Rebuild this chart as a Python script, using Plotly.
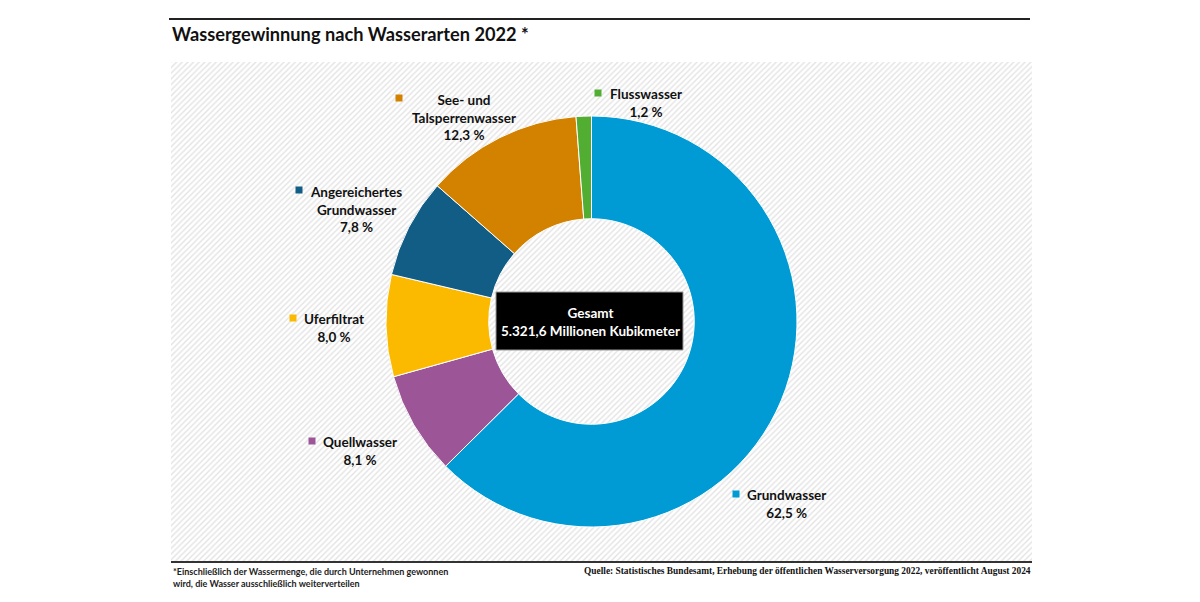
import plotly.graph_objects as go

W, H = 1200, 602

categories = ["Grundwasser", "Quellwasser", "Uferfiltrat", "Angereichertes<br>Grundwasser",
              "See- und<br>Talsperrenwasser", "Flusswasser"]
shares = [62.5, 8.1, 8.0, 7.8, 12.3, 1.2]
colors = ["#009BD5", "#9C5596", "#FBBA00", "#125D86", "#D38200", "#52AE32"]

# label block centre and colour square, in pixels of the 1200x602 picture
label_pos = [(786.5, 503.5), (360, 451), (334, 328), (356, 209), (463.5, 117), (646, 102.5)]
square_pos = [(736, 494), (312, 441), (293, 318), (299, 190), (399, 98), (598, 93)]

SANS = "Lato"
SERIF = "Liberation Serif"


def px(x):
    return x / W


def py(y):
    return 1 - y / H


fig = go.Figure()

# hatched panel behind the donut
fig.add_trace(go.Bar(
    x=[0], y=[1], width=[1],
    marker=dict(color="white", line_width=0,
                pattern=dict(shape="/", size=4, solidity=0.35, fgcolor="#c8c8c8", bgcolor="white")),
    hoverinfo="skip", showlegend=False,
))

fig.add_trace(go.Pie(
    values=shares,
    labels=[c.replace("<br>", " ") for c in categories],
    hole=0.5,
    sort=False,
    direction="clockwise",
    rotation=0,
    marker=dict(colors=colors, line=dict(color="white", width=1)),
    textinfo="none",
    showlegend=False,
    domain=dict(x=[px(386), px(797)], y=[py(527), py(116)]),
))

annotations = []
shapes = []
for cat, share, (x, y), (sx, sy), col in zip(categories, shares, label_pos, square_pos, colors):
    value = f"{share:.1f}".replace(".", ",")
    annotations.append(dict(
        x=px(x), y=py(y), xref="paper", yref="paper", showarrow=False,
        xanchor="center", yanchor="middle",
        text=f"<b>{cat}<br>{value} %</b>", align="center",
        font=dict(family=SANS, size=13.5, color="#111111"),
    ))
    shapes.append(dict(type="rect", xref="paper", yref="paper", layer="above",
                       x0=px(sx - 3.5), x1=px(sx + 3.5), y0=py(sy + 3.5), y1=py(sy - 3.5),
                       fillcolor=col, line_width=0))

# total box in the hole
shapes.append(dict(type="rect", xref="paper", yref="paper", layer="above",
                   x0=px(496), x1=px(683), y0=py(350), y1=py(292),
                   fillcolor="black", line=dict(color="#999999", width=1)))
annotations.append(dict(
    x=px(590.5), y=py(322), xref="paper", yref="paper", showarrow=False,
    xanchor="center", yanchor="middle",
    text="<b>Gesamt<br>5.321,6 Millionen Kubikmeter</b>", align="center",
    font=dict(family=SANS, size=13.5, color="white"),
))

# rules above the title and under the panel
shapes.append(dict(type="line", xref="paper", yref="paper", x0=px(169), x1=px(1030), y0=py(19), y1=py(19),
                   line=dict(color="#222222", width=2)))
shapes.append(dict(type="line", xref="paper", yref="paper", x0=px(171), x1=px(1032), y0=py(562), y1=py(562),
                   line=dict(color="#333333", width=2)))

annotations.append(dict(
    x=px(170), y=py(34), xref="paper", yref="paper", showarrow=False, xanchor="left", yanchor="middle",
    text="<b>Wassergewinnung nach Wasserarten 2022 *</b>",
    font=dict(family=SANS, size=18.2, color="#111111"),
))
annotations.append(dict(
    x=px(171), y=py(577), xref="paper", yref="paper", showarrow=False, xanchor="left", yanchor="middle",
    align="left",
    text="<b>*Einschließlich der Wassermenge, die durch Unternehmen gewonnen<br>"
         "wird, die Wasser ausschließlich weiterverteilen</b>",
    font=dict(family=SANS, size=9, color="#222222"),
))
annotations.append(dict(
    x=px(1033), y=py(571), xref="paper", yref="paper", showarrow=False, xanchor="right", yanchor="middle",
    text="<b>Quelle: Statistisches Bundesamt, Erhebung der öffentlichen Wasserversorgung 2022, "
         "veröffentlicht August 2024</b>",
    font=dict(family=SERIF, size=9.4, color="#111111"),
))

fig.update_layout(
    width=W, height=H,
    margin=dict(l=0, r=0, t=0, b=0),
    paper_bgcolor="white",
    plot_bgcolor="white",
    xaxis=dict(domain=[px(171), px(1032)], range=[-0.5, 0.5], visible=False, fixedrange=True),
    yaxis=dict(domain=[py(561), py(62)], range=[0, 1], visible=False, fixedrange=True),
    bargap=0,
    shapes=shapes,
    annotations=annotations,
)

fig.write_html("out.html", config=dict(displayModeBar=False),
               post_script="document.body.style.margin='0';")
